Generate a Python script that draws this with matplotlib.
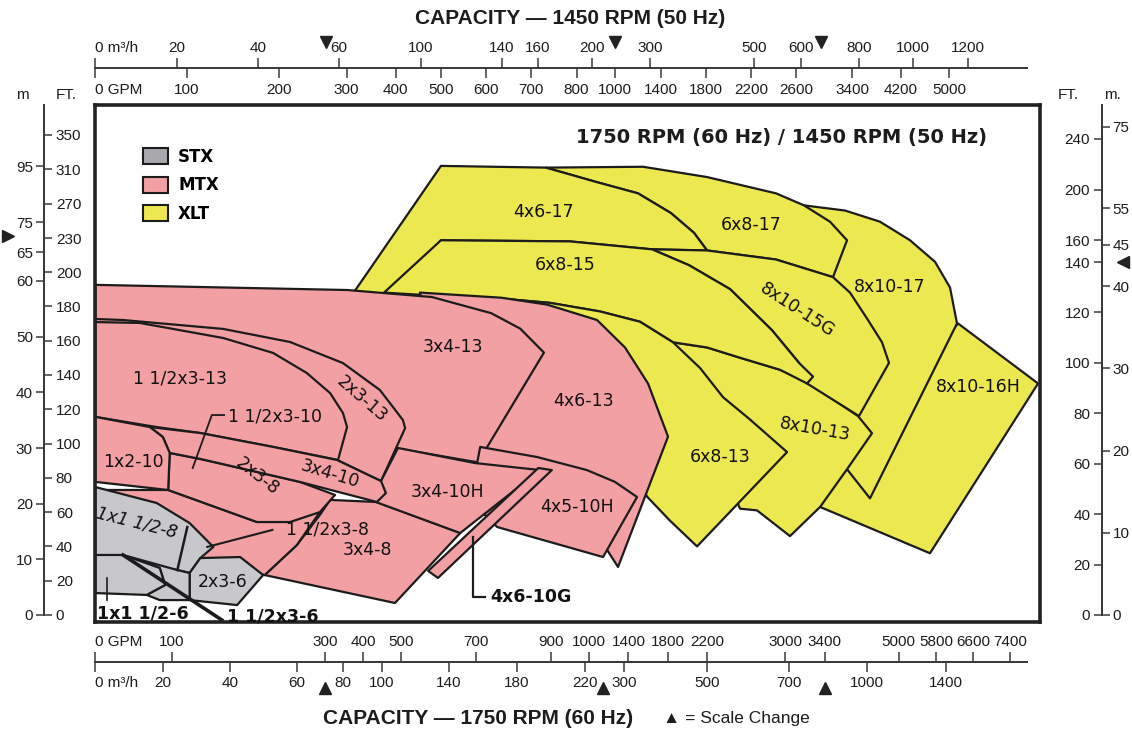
import numpy as np
import matplotlib
matplotlib.use("Agg")
import matplotlib.pyplot as plt
from matplotlib.patches import Polygon, Patch
from matplotlib.transforms import blended_transform_factory

W, H = 1132, 732  # output size in pixels at dpi 100
plt.rcParams["font.family"] = ["Liberation Sans", "DejaVu Sans"]

C_STX = "#c8c8cc"
C_MTX = "#f3a0a4"
C_XLT = "#ece84f"
INK = "#1c1c1c"
AXC = "#3a3a3a"

# ---------- printed scales (value -> position on the sheet) ----------
GPM60_KNOTS = [0, 300, 1000, 3400, 7400]
GPM60_PIX = [95.4, 325.2, 589.2, 824.5, 1010.2]
GPM60_TICKS = [0, 100, 300, 400, 500, 700, 900, 1000, 1400, 1800, 2200, 3000, 3400, 5000, 5800, 6600, 7400]
M3H60_TICKS = [0, 20, 40, 60, 80, 100, 140, 180, 220, 300, 500, 700, 1000, 1400]
M3H60_PIX = [95.4, 162.8, 229.7, 296.7, 343.3, 381.8, 449.1, 516.8, 584.8, 624.2, 706.7, 788.7, 867.2, 946]
M3H50_TICKS = [0, 20, 40, 60, 100, 140, 160, 200, 300, 500, 600, 800, 1000, 1200]
M3H50_PIX = [95.4, 176.8, 257.9, 339.2, 420.6, 501.7, 537.5, 592, 650, 754, 801, 859, 913, 968]
GPM50_TICKS = [0, 100, 200, 300, 400, 500, 600, 700, 800, 1000, 1400, 1800, 2200, 2600, 3400, 4200, 5000]
GPM50_PIX = [95.4, 186.8, 279, 346.6, 395.8, 440.6, 485.7, 531.2, 576.5, 615, 661, 706, 751, 796, 852, 901, 949]

FT60_KNOTS = [0, 200, 230, 350]
FT60_ROW = [615, 272, 238, 135]
FT60_TICKS = [0, 20, 40, 60, 80, 100, 120, 140, 160, 180, 200, 230, 270, 310, 350]
M60_KNOTS = [0, 60, 65, 75, 95]
M60_ROW = [615, 281, 252, 222, 166]
M60_TICKS = [0, 10, 20, 30, 40, 50, 60, 65, 75, 95]
FT50_KNOTS = [0, 140, 160, 240]
FT50_ROW = [615, 262, 240, 139]
FT50_TICKS = [0, 20, 40, 60, 80, 100, 120, 140, 160, 200, 240]
M50_KNOTS = [0, 45, 55, 75]
M50_ROW = [615, 245, 208, 127]
M50_TICKS = [0, 10, 20, 30, 40, 45, 55, 75]

# scale change markers
SC_BOTTOM_GPM = [300, 1140, 3400]
SC_TOP_GPM = [270, 1000, 2960]
SC_LEFT_FT = 232
SC_RIGHT_FT = 140

# ---------- coverage areas: (GPM @ 1750 RPM, head ft @ 1750 RPM) ----------
XLT_8x10_16H = [(6276, 170), (8000, 135), (5672, 36), (3355, 63), (3949, 96)]
XLT_8x10_17 = [(3191, 268), (3842, 262), (4595, 249), (5242, 228), (5780, 209), (6103, 191),
               (6254, 170), (4380, 68), (3885, 85), (3518, 114), (3150, 184)]
XLT_8x10_13 = [(1855, 159), (2202, 156), (2539, 150), (2946, 143), (3222, 136), (4122, 116),
               (4423, 106), (3885, 85), (3355, 63), (3048, 46), (2712, 61), (2539, 62), (2131, 114)]
XLT_6x8_17 = [(885, 312), (1549, 313), (2202, 301), (2906, 282), (3191, 268), (3518, 249), (3885, 228),
              (3583, 197), (2906, 211), (2202, 219), (2069, 236), (1834, 259), (1498, 282), (1080, 295)]
XLT_4x6_17 = [(607, 314), (885, 312), (1080, 295), (1498, 282), (1834, 259), (2069, 236), (2202, 219),
              (1641, 220), (949, 227), (607, 228), (456, 184), (363, 184)]
XLT_8x10_15G = [(1641, 220), (2202, 219), (2906, 211), (3583, 197), (3949, 188), (4337, 172), (4639, 159),
                (4789, 147), (4143, 116), (3222, 135), (3140, 147), (2865, 166), (2437, 190), (2018, 206)]
XLT_6x8_15 = [(456, 188), (607, 228), (949, 227), (1641, 220), (2018, 206), (2437, 190), (2865, 166),
              (3140, 147), (3283, 139), (3222, 135), (2946, 143), (2539, 150), (2202, 156), (1855, 159),
              (1518, 171), (1110, 177), (896, 182), (740, 185), (604, 186)]
XLT_6x8_13 = [(740, 185), (896, 182), (1110, 177), (1518, 171), (1855, 159), (2131, 144), (2365, 127),
              (2640, 114), (3018, 95), (2100, 40), (1824, 55), (1590, 69), (1416, 90), (1110, 125)]

MTX_4x6_13 = [(551, 188), (767, 185), (888, 181), (1080, 172), (1365, 156), (1600, 135), (1804, 104),
              (1294, 28), (1182, 38), (764, 79), (631, 125)]
MTX_3x4_13 = [(0, 192.5), (358, 189.5), (583, 185.4), (740, 176), (817, 167), (880, 153), (705, 89),
              (493, 97), (0, 114)]
MTX_2x3_13 = [(0, 172.6), (36, 172), (167, 166.8), (254, 159.2), (347, 146.9), (445, 131.2), (506, 113.7),
              (512, 109), (448, 78.1), (331, 90.4), (137, 106.1), (0, 115.5)]
MTX_1_5x3_13 = [(0, 170.8), (58, 170.3), (167, 161.5), (232, 152.8), (276, 141.1), (313, 129.4), (347, 117.8),
                (358, 109.6), (334, 90.4), (232, 98), (137, 106.1), (80, 109.6), (0, 115.5)]
MTX_4x5_10H = [(711, 98), (862, 92.1), (994, 84.5), (1263, 77.6), (1488, 68.8), (1141, 33.8), (756, 51.3),
               (684, 67.1)]
MTX_3x4_8 = [(313, 67.1), (437, 65.9), (658, 47.8), (485, 7), (221, 23.3), (263, 40.8), (293, 58.3)]
MTX_3x4_10H = [(493, 97.4), (697, 88.6), (870, 84.5), (658, 47.8), (419, 67.1), (448, 78.1)]
MTX_4x6_10G = [(865, 85.7), (901, 84.5), (599, 21.6), (573, 25.7)]
MTX_1_5x3_8 = [(95, 72.9), (211, 54.2), (293, 60), (263, 40.8), (221, 23.3), (137, 32.1), (0, 72.9)]
MTX_2x3_8 = [(97, 94.5), (137, 91), (211, 83.4), (267, 77.6), (326, 70), (293, 60), (254, 54.2),
             (211, 54.2), (95, 72.9)]
MTX_3x4_10 = [(71, 109.6), (137, 106.1), (232, 98), (331, 90.4), (448, 78.1), (461, 71.1), (437, 65.9),
              (267, 77.6), (211, 83.4), (137, 91), (97, 94.5), (88, 103.8)]
MTX_1x2_10 = [(0, 115.5), (71, 109.6), (88, 103.8), (97, 94.5), (95, 72.9), (0, 77.6)]

STX_1x1_5x8 = [(0, 74.6), (80, 65.3), (123, 53.6), (154, 39.7), (137, 33.2), (123, 24.5), (107, 26.2), (0, 35)]
STX_2x3_6 = [(123, 24.5), (137, 33.2), (189, 33.8), (219, 23.3), (185, 5.8), (123, 8.7)]
STX_1_5x3_6 = [(36, 35), (107, 26.2), (123, 24.5), (123, 8.7), (84, 8.7), (67, 11.7), (91, 17.5), (84, 27.4)]
STX_1x1_5x6 = [(0, 35), (36, 35), (84, 27.4), (91, 17.5), (67, 11.7), (0, 12.8)]

LEAD_1_5x3_10 = [(168, 116.6), (152, 116.6), (127, 85.7)]
LEAD_1_5x3_8 = [(231, 49.6), (146, 39.7)]
LEAD_4x6_10G = [(692, 45.5), (692, 10.5), (724, 10.5)]
LEAD_1x1_5x6 = [(15, 21.6), (15, 8.7)]
LEAD_1_5x3_6 = [(36, 35), (165, -2.9)]
STX_SPLIT = [(120, 51.3), (107, 26.2)]

LABEL_TEXT = ["4x6-17", "6x8-17", "8x10-17", "6x8-15", "8x10-15G", "8x10-16H", "8x10-13", "6x8-13",
              "3x4-13", "4x6-13", "1 1/2x3-13", "2x3-13", "1x2-10", "2x3-8", "3x4-10", "3x4-10H",
              "4x5-10H", "1 1/2x3-8", "3x4-8", "2x3-6"]
LABEL_GPM = [880, 2650, 4811, 936, 3120, 6706, 3303, 2334, 639, 984, 110, 398, 50, 212, 313, 623,
             968, 305, 413, 166]
LABEL_FT = [260, 245, 191, 206, 178, 133, 108, 92, 156, 125, 138, 126, 89, 81, 82, 72, 63, 50, 38, 19]
LABEL_ROT = [0, 0, 0, 0, -33, 0, -10, 0, 0, 0, 0, -41, 0, -38, -17, 0, 0, 0, 0, 0]


def piecewise(vals, pix):
    v = np.asarray(vals, float)
    p = np.asarray(pix, float)
    lo = (p[1] - p[0]) / (v[1] - v[0])
    hi = (p[-1] - p[-2]) / (v[-1] - v[-2])
    v = np.concatenate([[v[0] - 1e5], v, [v[-1] + 1e5]])
    p = np.concatenate([[p[0] - 1e5 * lo], p, [p[-1] + 1e5 * hi]])
    return (lambda x: np.interp(x, v, p)), (lambda y: np.interp(y, p, v))


fig = plt.figure(figsize=(W / 100, H / 100), dpi=100)
fig.patch.set_facecolor("white")

# ---------- main chart ----------
gx = piecewise(GPM60_KNOTS, GPM60_PIX)
fy = piecewise(FT60_KNOTS, [H - r for r in FT60_ROW])
ax = fig.add_axes([95 / W, (H - 622) / H, 945 / W, 517 / H])
ax.set_xscale("function", functions=gx)
ax.set_yscale("function", functions=fy)
ax.set_xlim(gx[1](95), gx[1](1040))
ax.set_ylim(fy[1](H - 622), fy[1](H - 105))
ax.set_xticks([])
ax.set_yticks([])
for s in ax.spines.values():
    s.set_linewidth(2.6)
    s.set_color("#222222")

areas = [
    (XLT_8x10_16H, C_XLT), (XLT_8x10_17, C_XLT), (XLT_8x10_13, C_XLT), (XLT_6x8_17, C_XLT),
    (XLT_4x6_17, C_XLT), (XLT_8x10_15G, C_XLT), (XLT_6x8_15, C_XLT), (XLT_6x8_13, C_XLT),
    (MTX_4x6_13, C_MTX), (MTX_3x4_13, C_MTX), (MTX_2x3_13, C_MTX), (MTX_1_5x3_13, C_MTX),
    (MTX_4x5_10H, C_MTX), (MTX_3x4_8, C_MTX), (MTX_3x4_10H, C_MTX), (MTX_4x6_10G, C_MTX),
    (MTX_1_5x3_8, C_MTX), (MTX_2x3_8, C_MTX), (MTX_3x4_10, C_MTX), (MTX_1x2_10, C_MTX),
    (STX_1x1_5x8, C_STX), (STX_2x3_6, C_STX), (STX_1_5x3_6, C_STX), (STX_1x1_5x6, C_STX),
]
for verts, col in areas:
    ax.add_patch(Polygon(verts, closed=True, facecolor=col, edgecolor=INK,
                         linewidth=1.6, joinstyle="round", zorder=1))

for line, lw in [(LEAD_1_5x3_10, 1.3), (LEAD_1_5x3_8, 1.5), (LEAD_4x6_10G, 1.6),
                 (LEAD_1x1_5x6, 1.2), (LEAD_1_5x3_6, 2.6), (STX_SPLIT, 1.8)]:
    xs, ys = zip(*line)
    ax.plot(xs, ys, color=INK, lw=lw, zorder=1.5, clip_on=True)

lab_font = dict(family="DejaVu Sans", fontsize=12.5, color="#111111", zorder=3)
for t, x, y, r in zip(LABEL_TEXT, LABEL_GPM, LABEL_FT, LABEL_ROT):
    ax.text(x, y, t, rotation=r, ha="center", va="center", rotation_mode="anchor", **lab_font)
ax.text(173, 115.5, "1 1/2x3-10", ha="left", va="center", **lab_font)
ax.text(54, 54, "1x1 1/2-8", rotation=-14, style="italic", ha="center", va="center",
        rotation_mode="anchor", **lab_font)
ax.text(62, 1, "1x1 1/2-6", ha="center", va="center", fontweight="bold", **lab_font)
ax.text(231, -1, "1 1/2x3-6", ha="center", va="center", fontweight="bold", **lab_font)
ax.text(737, 10.5, "4x6-10G", ha="left", va="center", fontweight="bold", **lab_font)

ax.text(0.726, 0.938, "1750 RPM (60 Hz) / 1450 RPM (50 Hz)", transform=ax.transAxes,
        ha="center", va="center", family="DejaVu Sans", fontsize=14, fontweight="bold", color=INK)

handles = [Patch(facecolor="#a9a9ad", edgecolor=INK, lw=1.5, label="STX"),
           Patch(facecolor=C_MTX, edgecolor=INK, lw=1.5, label="MTX"),
           Patch(facecolor=C_XLT, edgecolor=INK, lw=1.5, label="XLT")]
ax.legend(handles=handles, loc="upper left", bbox_to_anchor=(0.042, 0.933), frameon=False,
          borderpad=0, handlelength=1.5, handleheight=1.1, handletextpad=0.6, labelspacing=0.62,
          prop=dict(family="DejaVu Sans", weight="bold", size=12))


# ---------- capacity scales ----------
def h_axis(row, vals, pix, side, ticks, labels, pad):
    f = piecewise(vals, pix)
    a = fig.add_axes([95.4 / W, (H - row) / H, (1027 - 95.4) / W, 1e-5])
    a.set_facecolor("none")
    a.set_xscale("function", functions=f)
    a.set_xlim(f[1](95.4), f[1](1027))
    a.set_yticks([])
    for s in a.spines.values():
        s.set_visible(False)
    a.spines[side].set_visible(True)
    a.spines[side].set_linewidth(1.3)
    a.spines[side].set_color(AXC)
    a.xaxis.set_ticks_position(side)
    a.set_xticks(ticks, labels=labels)
    a.tick_params(axis="x", direction="out", length=7, width=1.1, pad=pad, labelsize=11,
                  color=AXC, labelcolor=INK)
    a.get_xticklabels()[0].set_horizontalalignment("left")
    return a


def v_axis(col, knots, rows, side, ticks, pad):
    f = piecewise(knots, [H - r for r in rows])
    a = fig.add_axes([col / W, (H - 615) / H, 1e-5, (615 - 105) / H])
    a.set_facecolor("none")
    a.set_yscale("function", functions=f)
    a.set_ylim(f[1](H - 615), f[1](H - 105))
    a.set_xticks([])
    for s in a.spines.values():
        s.set_visible(False)
    a.spines[side].set_visible(True)
    a.spines[side].set_linewidth(1.3)
    a.spines[side].set_color(AXC)
    a.yaxis.set_ticks_position(side)
    a.set_yticks(ticks, labels=[str(t) for t in ticks])
    a.tick_params(axis="y", direction="out", length=5.5, width=1.1, pad=pad, labelsize=11,
                  color=AXC, labelcolor=INK)
    return a


lab = [str(t) for t in GPM60_TICKS]
lab[0] = "0 GPM"
ab1 = h_axis(662, GPM60_KNOTS, GPM60_PIX, "top", GPM60_TICKS, lab, 2.5)
lab = [str(t) for t in M3H60_TICKS]
lab[0] = "0 m³/h"
ab2 = h_axis(662, M3H60_TICKS, M3H60_PIX, "bottom", M3H60_TICKS, lab, 3)
lab = [str(t) for t in M3H50_TICKS]
lab[0] = "0 m³/h"
at1 = h_axis(68, M3H50_TICKS, M3H50_PIX, "top", M3H50_TICKS, lab, 2.5)
lab = [str(t) for t in GPM50_TICKS]
lab[0] = "0 GPM"
at2 = h_axis(68, GPM50_TICKS, GPM50_PIX, "bottom", GPM50_TICKS, lab, 3.5)

al1 = v_axis(44, FT60_KNOTS, FT60_ROW, "right", FT60_TICKS, 3)
al2 = v_axis(44, M60_KNOTS, M60_ROW, "left", M60_TICKS, 2.5)
ar1 = v_axis(1102, FT50_KNOTS, FT50_ROW, "left", FT50_TICKS, 3)
ar2 = v_axis(1102, M50_KNOTS, M50_ROW, "right", M50_TICKS, 2)

# scale change markers
tb = blended_transform_factory(ab1.transData, fig.transFigure)
ab1.plot(SC_BOTTOM_GPM, [(H - 688) / H] * 3, ls="none", marker="^", ms=9, color="#222222",
         transform=tb, clip_on=False)
tt = blended_transform_factory(at2.transData, fig.transFigure)
at2.plot(SC_TOP_GPM, [(H - 42) / H] * 3, ls="none", marker="v", ms=9, color="#222222",
         transform=tt, clip_on=False)
tl = blended_transform_factory(fig.transFigure, al1.transData)
al1.plot([8 / W], [SC_LEFT_FT], ls="none", marker=">", ms=9, color="#222222", transform=tl, clip_on=False)
tr = blended_transform_factory(fig.transFigure, ar1.transData)
ar1.plot([1123 / W], [SC_RIGHT_FT], ls="none", marker="<", ms=9, color="#222222", transform=tr, clip_on=False)

# headers and titles
for x, t in [(22, "m"), (66, "FT."), (1068, "FT."), (1112, "m.")]:
    fig.text(x / W, 1 - 95 / H, t, ha="center", va="center", fontsize=11, color=INK)
fig.text(570 / W, 1 - 18 / H, "CAPACITY — 1450 RPM (50 Hz)", ha="center", va="center",
         fontsize=15, fontweight="bold", color=INK)
fig.text(478 / W, 1 - 718 / H, "CAPACITY — 1750 RPM (60 Hz)", ha="center", va="center",
         fontsize=15, fontweight="bold", color=INK)
fig.text(663 / W, 1 - 719 / H, "▲ = Scale Change", ha="left", va="center", fontsize=12.5, color=INK)

fig.savefig("out.png", dpi=100, facecolor="white")
